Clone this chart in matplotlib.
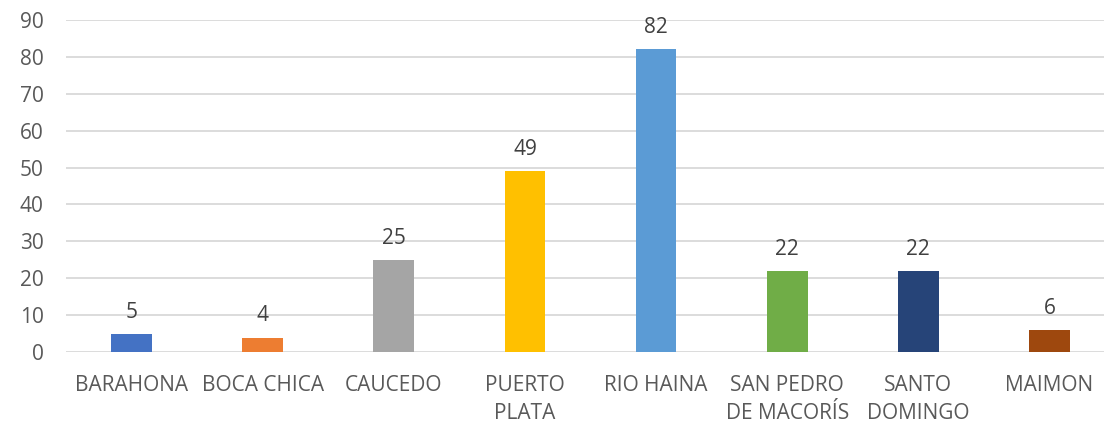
import matplotlib
matplotlib.use("Agg")
import matplotlib.pyplot as plt

categories = ["BARAHONA", "BOCA CHICA", "CAUCEDO", "PUERTO\nPLATA", "RIO HAINA",
              "SAN PEDRO\nDE MACORÍS", "SANTO\nDOMINGO", "MAIMON"]
values = [5, 4, 25, 49, 82, 22, 22, 6]
colors = ["#4472C4", "#ED7D31", "#A5A5A5", "#FFC000", "#5B9BD5",
          "#70AD47", "#264478", "#9E480E"]
yticks = list(range(0, 91, 10))

plt.rcParams["font.family"] = ["Open Sans", "DejaVu Sans"]
text_color = "#595959"

fig = plt.figure(figsize=(11.04, 4.24), dpi=100)
ax = fig.add_axes([66 / 1104, (424 - 352.3) / 424, 1 - 66 / 1104, (352.3 - 19.7) / 424])

x = list(range(len(categories)))
bars = ax.bar(x, values, width=0.31, color=colors, zorder=3)

for xi, v in zip(x, values):
    ax.annotate(str(v), (xi, v), xytext=(0, 8), textcoords="offset points",
                ha="center", va="bottom", fontsize=15, color="#404040")

ax.set_ylim(0, 90)
ax.set_xlim(-0.5, 7.416)
ax.set_yticks(yticks)
ax.set_xticks(x)
ax.set_xticklabels(categories, linespacing=1.45)
ax.tick_params(axis="both", length=0, labelsize=15, colors=text_color)
ax.tick_params(axis="x", pad=16)
ax.tick_params(axis="y", pad=16)

ax.grid(axis="y", color="#D9D9D9", linewidth=1.3, zorder=0)
for s in ax.spines.values():
    s.set_visible(False)

fig.savefig("out.png", dpi=100)
